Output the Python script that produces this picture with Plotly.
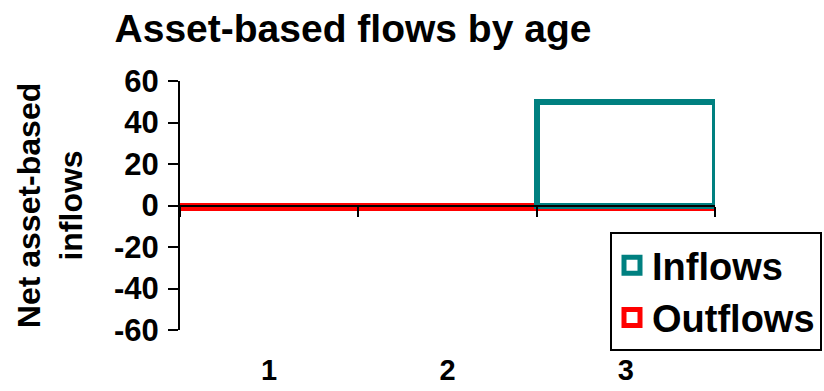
import plotly.graph_objects as go

categories = ["1", "2", "3"]
inflows = [None, None, 50]
outflows = [-1.5, -1.5, -1.5]
y_ticks = [-60, -40, -20, 0, 20, 40, 60]

FONT = "Arial, Liberation Sans, sans-serif"
TEAL = "#008080"
RED = "#FF0000"

fig = go.Figure()
fig.add_trace(go.Bar(
    name="Outflows", x=categories, y=outflows, showlegend=False,
    marker=dict(color="white", line=dict(color=RED, width=5)),
))
fig.add_trace(go.Bar(
    name="Inflows", x=categories, y=inflows, showlegend=False,
    marker=dict(color="white", line=dict(color=TEAL, width=6)),
))
# legend entries (larger square symbols than the fixed bar legend glyph)
for name, col in (("Outflows", RED), ("Inflows", TEAL)):
    fig.add_trace(go.Scatter(
        name=f"<b>{name}</b>", x=[None], y=[None], mode="markers",
        marker=dict(symbol="square", size=16, color="white",
                    line=dict(color=col, width=5)),
        hoverinfo="skip",
    ))
# helper trace for the zero-line axis with boundary ticks
fig.add_trace(go.Scatter(
    x=categories, y=[None] * 3, xaxis="x2", showlegend=False,
    hoverinfo="skip", mode="markers",
))

fig.update_layout(
    width=824, height=391,
    margin=dict(l=180, r=109, t=81, b=61, autoexpand=False),
    paper_bgcolor="white", plot_bgcolor="white",
    barmode="relative", bargap=0,
    font=dict(family=FONT, color="black"),
    title=dict(
        text="<b>Asset-based flows by age</b>",
        font=dict(size=39, family=FONT, color="black"),
        xref="container", x=353 / 824, xanchor="center",
        yref="container", y=1 - 28 / 391, yanchor="middle",
    ),
    xaxis=dict(
        type="category", categoryorder="array", categoryarray=categories,
        range=[-0.5, 2.5],
        showline=False, ticks="", showgrid=False, zeroline=False,
        tickfont=dict(size=29, family=FONT, color="black"),
        ticklabelstandoff=20,
        tickprefix="<b>", ticksuffix="</b>",
    ),
    xaxis2=dict(
        type="category", categoryorder="array", categoryarray=categories,
        range=[-0.5, 2.5], overlaying="x", anchor="free", position=0.5,
        side="bottom",
        showline=True, linecolor="black", linewidth=2,
        ticks="outside", ticklen=10, tickwidth=2, tickcolor="black",
        tickson="boundaries", showticklabels=False,
        showgrid=False, zeroline=False,
    ),
    yaxis=dict(
        range=[-60, 60], tickvals=y_ticks,
        ticktext=[f"<b>{v}</b>" for v in y_ticks],
        showline=True, linecolor="black", linewidth=2,
        ticks="outside", ticklen=10, tickwidth=2, tickcolor="black",
        showgrid=False, zeroline=False,
        tickfont=dict(size=31, family=FONT, color="black"),
        ticklabelstandoff=3,
        title=dict(text="<b>Net asset-based<br>inflows</b>",
                   font=dict(size=32, family=FONT, color="black"),
                   standoff=22),
    ),
    legend=dict(
        x=(610 - 180) / 535, y=(330 - 232) / 249,
        xanchor="left", yanchor="top",
        traceorder="reversed",
        bordercolor="black", borderwidth=2, bgcolor="white",
        font=dict(size=38, family=FONT, color="black"),
        itemwidth=30,
    ),
)
fig.update_traces(selector=dict(type="bar"), hoverinfo="skip")

fig.write_html("out.html")
